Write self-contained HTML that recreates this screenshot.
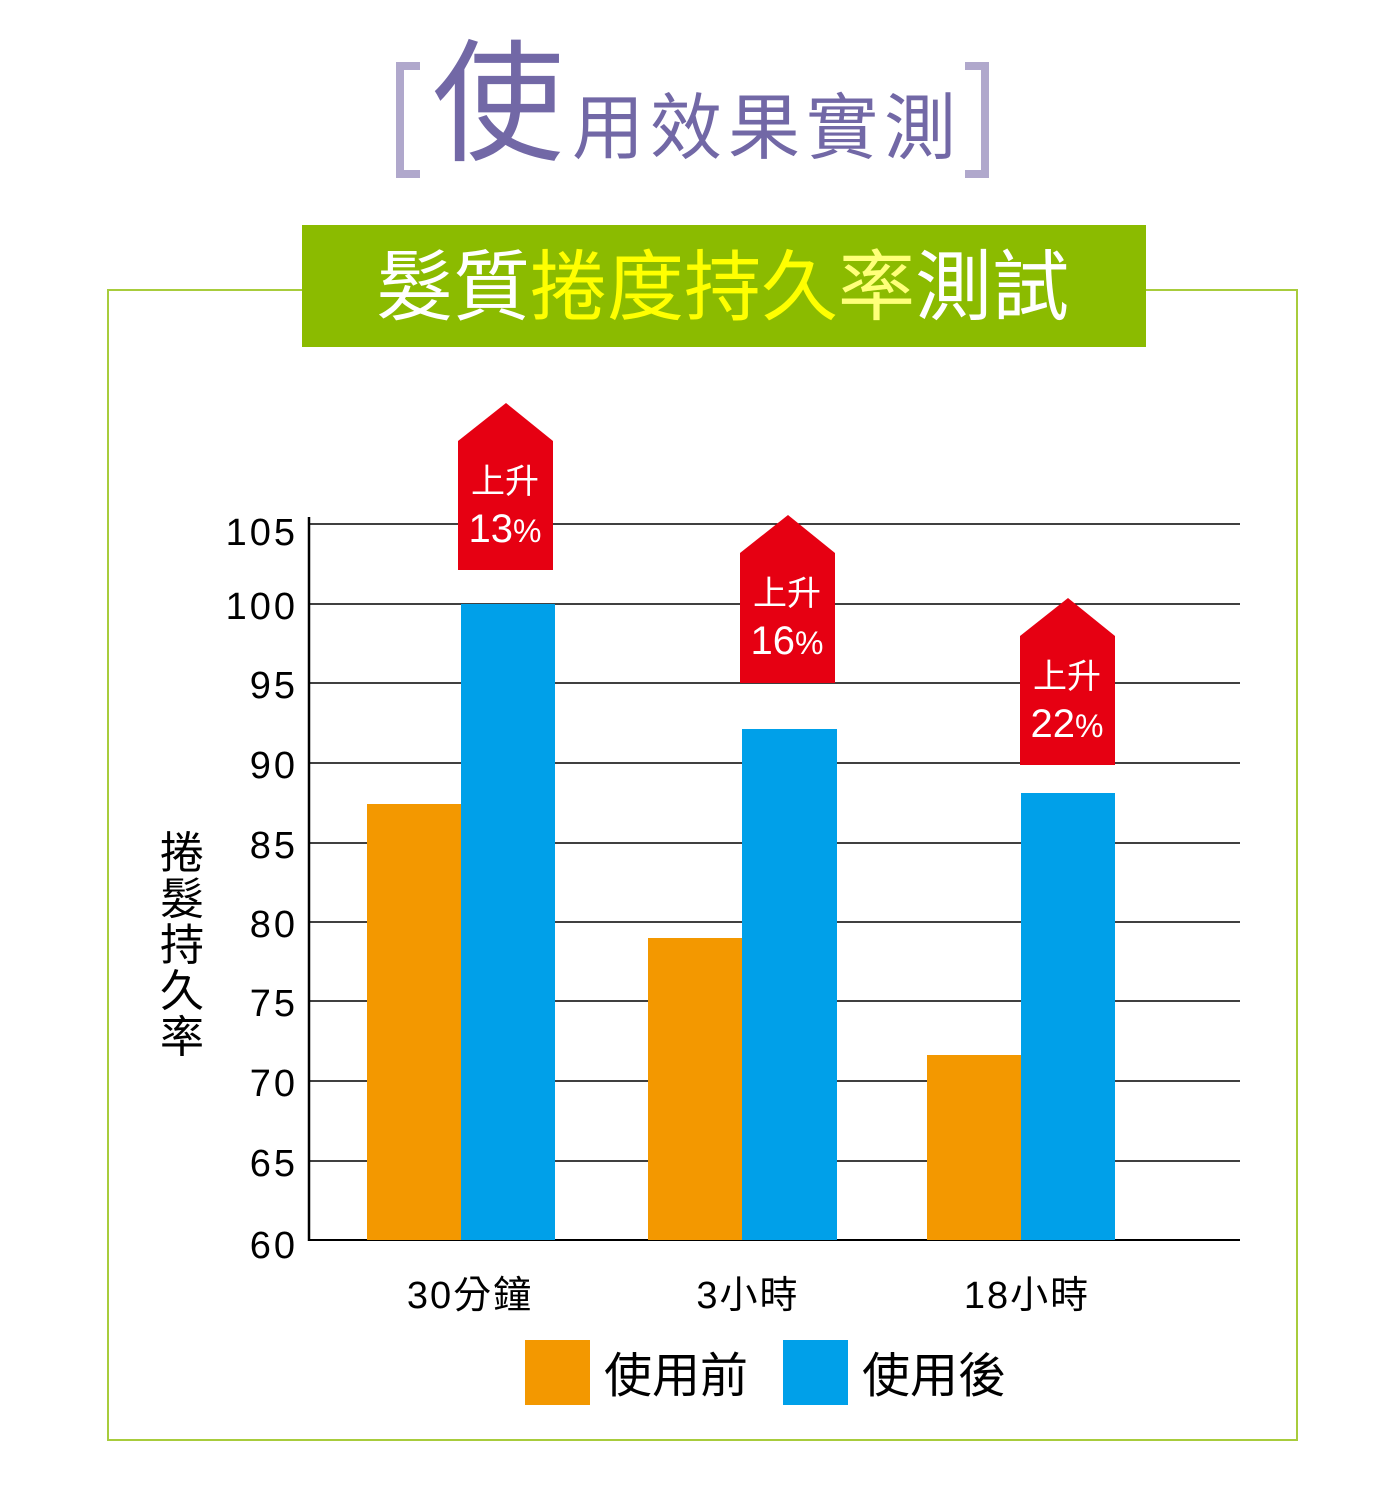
<!DOCTYPE html>
<html><head><meta charset="utf-8"><style>
html,body{margin:0;padding:0;background:#fff;}
svg text{font-family:"Liberation Sans","Noto Sans CJK TC",sans-serif;}
</style></head><body>
<svg width="1400" height="1498" viewBox="0 0 1400 1498" xmlns="http://www.w3.org/2000/svg">
<path d="M420,66 H400 V174 H420" fill="none" stroke="#b0a8cc" stroke-width="8"/>
<path d="M965,66 H985 V174 H965" fill="none" stroke="#b0a8cc" stroke-width="8"/>
<text x="432" y="150" font-size="132" fill="#7268a6">使</text>
<text x="572" y="153" font-size="72" fill="#7268a6" letter-spacing="6">用效果實測</text>
<rect x="108" y="290" width="1189" height="1150" fill="none" stroke="#a8cc3c" stroke-width="2"/>
<rect x="302" y="225" width="844" height="122" fill="#8bbb00"/>
<text x="376" y="314" font-size="77" fill="#fff">髮質<tspan fill="#ffff00">捲度持久</tspan><tspan fill="#ffff7a">率</tspan>測試</text>
<g stroke="#000" stroke-width="1.5">
<line x1="309" y1="524" x2="1240" y2="524"/>
<line x1="309" y1="604" x2="1240" y2="604"/>
<line x1="309" y1="683" x2="1240" y2="683"/>
<line x1="309" y1="763" x2="1240" y2="763"/>
<line x1="309" y1="843" x2="1240" y2="843"/>
<line x1="309" y1="922" x2="1240" y2="922"/>
<line x1="309" y1="1001" x2="1240" y2="1001"/>
<line x1="309" y1="1081" x2="1240" y2="1081"/>
<line x1="309" y1="1161" x2="1240" y2="1161"/>
<line x1="309" y1="1240" x2="1240" y2="1240" stroke-width="2"/>
<line x1="309" y1="517" x2="309" y2="1241" stroke-width="2.5"/>
</g>
<g font-size="38" fill="#000" text-anchor="end" letter-spacing="3">
<text x="298" y="545">105</text><text x="298" y="619">100</text><text x="298" y="698">95</text>
<text x="298" y="778">90</text><text x="298" y="858">85</text><text x="298" y="937">80</text>
<text x="298" y="1016">75</text><text x="298" y="1096">70</text><text x="298" y="1176">65</text>
<text x="298" y="1258">60</text>
</g>
<g font-size="44" fill="#000" text-anchor="middle">
<text x="182" y="868">捲</text><text x="182" y="914">髮</text><text x="182" y="960">持</text>
<text x="182" y="1006">久</text><text x="182" y="1052">率</text>
</g>
<rect x="367" y="804" width="94" height="436" fill="#f39800"/>
<rect x="461" y="604" width="94" height="636" fill="#00a0e9"/>
<rect x="648" y="938" width="94" height="302" fill="#f39800"/>
<rect x="742" y="729" width="95" height="511" fill="#00a0e9"/>
<rect x="927" y="1055" width="94" height="185" fill="#f39800"/>
<rect x="1021" y="793" width="94" height="447" fill="#00a0e9"/>
<g fill="#e60012">
<polygon points="458,441 506,403 553,441 553,570 458,570"/>
<polygon points="740,553 788,515 835,553 835,683 740,683"/>
<polygon points="1020,636 1068,598 1115,636 1115,765 1020,765"/>
</g>
<g fill="#fff" text-anchor="middle">
<text x="505" y="493" font-size="34">上升</text><text x="505" y="542" font-size="40">13<tspan font-size="32">%</tspan></text>
<text x="787" y="605" font-size="34">上升</text><text x="787" y="654" font-size="40">16<tspan font-size="32">%</tspan></text>
<text x="1067" y="688" font-size="34">上升</text><text x="1067" y="737" font-size="40">22<tspan font-size="32">%</tspan></text>
</g>
<g font-size="38" fill="#000" text-anchor="middle" letter-spacing="2">
<text x="470" y="1308">30分鐘</text><text x="748" y="1308">3小時</text><text x="1027" y="1308">18小時</text>
</g>
<rect x="525" y="1340" width="65" height="65" fill="#f39800"/>
<text x="604" y="1392" font-size="48" fill="#000">使用前</text>
<rect x="783" y="1340" width="65" height="65" fill="#00a0e9"/>
<text x="862" y="1392" font-size="48" fill="#000">使用後</text>
</svg>
</body></html>
